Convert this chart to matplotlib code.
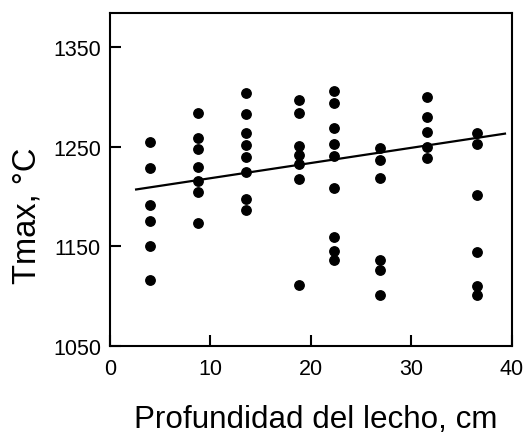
import matplotlib
matplotlib.use('Agg')
import matplotlib.pyplot as plt

plt.rcParams['font.family'] = ['Liberation Sans', 'DejaVu Sans']

# profundidad de cada columna de puntos (cm)
depths = [4.0, 8.8, 13.5, 18.8, 22.3, 26.9, 31.5, 36.5]

temps = [
    [1255, 1229, 1191, 1175, 1150, 1116],
    [1284, 1259, 1248, 1230, 1215, 1204, 1173],
    [1304, 1283, 1264, 1252, 1240, 1225, 1197, 1186],
    [1297, 1284, 1251, 1242, 1233, 1217, 1111],
    [1306, 1294, 1269, 1253, 1241, 1208, 1159, 1145, 1136],
    [1249, 1237, 1219, 1136, 1126, 1101],
    [1300, 1280, 1265, 1250, 1239],
    [1264, 1253, 1201, 1144, 1110, 1101],
]

# recta de regresion
line_x = [2.6, 39.3]
line_y = [1207, 1263]

xs = []
ys = []
for d, col in zip(depths, temps):
    for t in col:
        xs.append(d)
        ys.append(t)

fig = plt.figure(figsize=(5.28, 4.39), dpi=100)
ax = fig.add_axes([0.2083, 0.2096, 0.7614, 0.7585])

ax.scatter(xs, ys, s=46, color='black', zorder=3)
ax.plot(line_x, line_y, color='black', linewidth=1.6)

ax.set_xlim(0, 40)
ax.set_ylim(1050, 1384)
ax.set_xticks([0, 10, 20, 30, 40])
ax.set_yticks([1050, 1150, 1250, 1350])

for s in ax.spines.values():
    s.set_linewidth(1.5)
ax.tick_params(direction='in', length=8, width=1.5, labelsize=15.5)
ax.tick_params(axis='x', pad=9)
ax.tick_params(axis='y', pad=6.5)

ax.set_xlabel('Profundidad del lecho, cm', fontsize=22.6)
ax.xaxis.set_label_coords(0.512, -0.175)
ax.set_ylabel('Tmax, °C', fontsize=23.5)
ax.yaxis.set_label_coords(-0.167, 0.393)

fig.savefig('out.png', dpi=100)
